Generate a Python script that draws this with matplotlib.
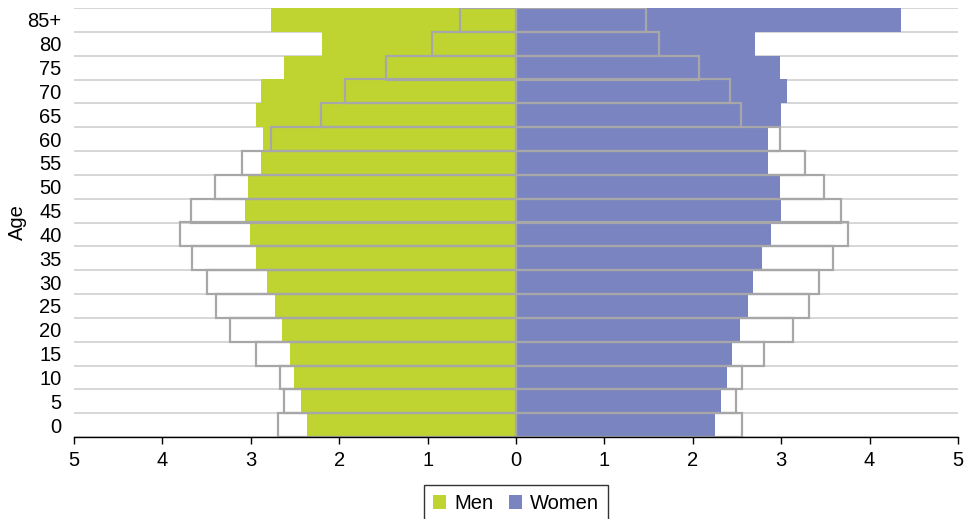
import matplotlib
matplotlib.use("Agg")
import matplotlib.pyplot as plt
from matplotlib.patches import Patch
from matplotlib.ticker import FuncFormatter

plt.rcParams['font.family'] = ['Liberation Sans', 'DejaVu Sans']

ages = ['0', '5', '10', '15', '20', '25', '30', '35', '40', '45', '50',
        '55', '60', '65', '70', '75', '80', '85+']
men = [2.36, 2.43, 2.51, 2.56, 2.65, 2.73, 2.82, 2.94, 3.01, 3.06, 3.03,
       2.88, 2.86, 2.94, 2.88, 2.63, 2.20, 2.77]
women = [2.25, 2.32, 2.385, 2.44, 2.53, 2.62, 2.68, 2.78, 2.885, 3.00, 2.99,
         2.85, 2.85, 3.00, 3.06, 2.99, 2.70, 4.355]
men_ref = [2.69, 2.63, 2.67, 2.94, 3.23, 3.39, 3.50, 3.66, 3.80, 3.68, 3.40,
           3.10, 2.77, 2.21, 1.94, 1.47, 0.95, 0.63]
women_ref = [2.56, 2.49, 2.555, 2.80, 3.13, 3.32, 3.43, 3.59, 3.76, 3.68, 3.48,
             3.27, 2.99, 2.545, 2.42, 2.07, 1.62, 1.47]

GREEN = '#BFD430'
BLUE = '#7A84C1'
EDGE = '#A7A7A9'
GRID = '#CFCFD1'
FS = 14.5

fig = plt.figure(figsize=(9.69, 5.19), dpi=100)
ax = fig.add_axes([74/969, 1-437/519, (958-74)/969, (437-8)/519])

y = list(range(len(ages)))
n = len(ages)

# gridlines at row boundaries
for k in range(n + 1):
    ax.hlines(k - 0.5, -5, 5, color=GRID, lw=1.2, zorder=1)

ax.barh(y, [-v for v in men], height=1.0, color=GREEN, lw=0, zorder=2)
ax.barh(y, women, height=1.0, color=BLUE, lw=0, zorder=2)
ax.barh(y, [-v for v in men_ref], height=1.0, facecolor='none',
        edgecolor=EDGE, lw=1.6, zorder=3)
ax.barh(y, women_ref, height=1.0, facecolor='none',
        edgecolor=EDGE, lw=1.6, zorder=3)

ax.set_xlim(-5, 5)
ax.set_ylim(-0.5, n - 0.5)
ax.set_xticks(range(-5, 6))
ax.xaxis.set_major_formatter(FuncFormatter(lambda v, p: f"{abs(int(round(v)))}"))
ax.set_yticks(y)
ax.set_yticklabels(ages)

for s in ['top', 'right', 'left']:
    ax.spines[s].set_visible(False)
ax.spines['bottom'].set_color('black')
ax.spines['bottom'].set_linewidth(1.0)
ax.spines['bottom'].set_zorder(5)

ax.tick_params(axis='x', direction='out', length=5, width=1, color='black',
               labelsize=FS, pad=5)
ax.tick_params(axis='y', length=0, labelsize=FS, pad=9)
ax.set_ylabel('Age', fontsize=FS, labelpad=0)

handles = [Patch(facecolor=GREEN, edgecolor='none', label='Men'),
           Patch(facecolor=BLUE, edgecolor='none', label='Women')]
leg = fig.legend(handles=handles, loc='upper center', ncol=2,
                 bbox_to_anchor=(516/969, 1-485/519), fontsize=FS,
                 frameon=True, fancybox=False, edgecolor='black',
                 handlelength=0.65, handleheight=0.65, handletextpad=0.4,
                 columnspacing=0.75, borderpad=0.45, borderaxespad=0)
leg.get_frame().set_linewidth(1.0)

fig.savefig('out.png', dpi=100)
